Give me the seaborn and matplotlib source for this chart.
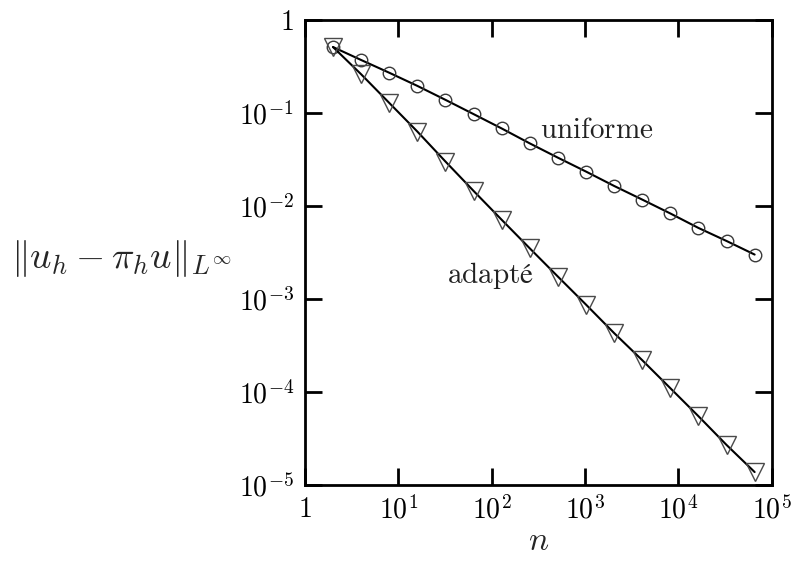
"""Convergence de l'erreur L-infini : maillage uniforme vs adapte (log-log)."""

import numpy as np
import pandas as pd
import matplotlib
matplotlib.use("Agg")
import matplotlib.pyplot as plt
import seaborn as sns

# nombre de mailles n = 2, 4, ..., 65536
n_values = [2, 4, 8, 16, 32, 64, 128, 256, 512, 1024, 2048, 4096,
            8192, 16384, 32768, 65536]

err_uniforme = [0.51, 0.37, 0.27, 0.195, 0.138, 0.097, 0.068, 0.047,
                0.033, 0.0234, 0.0164, 0.0117, 0.0083, 0.0058, 0.0042, 0.0030]

err_adapte = [0.51, 0.26, 0.128, 0.063, 0.030, 0.0145, 0.0071, 0.0035,
              0.00174, 0.00087, 0.00043, 0.00022, 0.00011, 5.5e-5, 2.7e-5,
              1.38e-5]

xticks = [1, 10, 100, 1e3, 1e4, 1e5]
xtick_labels = ["$1$", "$10^{1}$", "$10^{2}$", "$10^{3}$", "$10^{4}$", "$10^{5}$"]
yticks = [1e-5, 1e-4, 1e-3, 1e-2, 1e-1, 1]
ytick_labels = ["$10^{-5}$", "$10^{-4}$", "$10^{-3}$", "$10^{-2}$", "$10^{-1}$", "$1$"]


def main():
    sns.set_theme(style="ticks")
    plt.rcParams["mathtext.fontset"] = "cm"
    plt.rcParams["font.family"] = ["DejaVu Serif"]

    df_u = pd.DataFrame({"n": n_values, "err": err_uniforme})
    df_a = pd.DataFrame({"n": n_values, "err": err_adapte})

    fig = plt.figure(figsize=(7.94, 5.66), dpi=100)
    ax = fig.add_axes([0.384, 0.143, 0.588, 0.822])

    sns.lineplot(data=df_u, x="n", y="err", ax=ax, color="black", lw=1.5,
                 marker="o", markersize=9, markerfacecolor="none",
                 markeredgecolor="#3a3a3a", markeredgewidth=1.0)
    sns.lineplot(data=df_a, x="n", y="err", ax=ax, color="black", lw=1.5,
                 marker="v", markersize=13, markerfacecolor="none",
                 markeredgecolor="#4a4a4a", markeredgewidth=1.0)

    ax.set_xscale("log")
    ax.set_yscale("log")
    ax.set_xlim(1, 1e5)
    ax.set_ylim(1e-5, 1)

    ax.set_xticks(xticks)
    ax.set_xticklabels(xtick_labels)
    ax.set_yticks(yticks)
    ax.set_yticklabels(ytick_labels)
    ax.minorticks_off()
    ax.tick_params(which="major", direction="in", length=12, width=2,
                   top=True, right=True, labelsize=20, pad=8, colors="black")
    for side in ax.spines.values():
        side.set_visible(True)
        side.set_linewidth(2)
        side.set_color("black")

    ax.set_xlabel("$n$", fontsize=24, labelpad=0)
    ax.set_ylabel("")
    fig.text(0.153, 0.543, r"$\Vert u_h - \pi_h u\Vert_{L^\infty}$",
             fontsize=27, ha="center", va="center")

    ax.text(330, 0.066, r"$\mathrm{uniforme}$", fontsize=21,
            ha="left", va="center", color="#222222")
    ax.text(33, 0.0018, "$\\mathrm{adapté}$", fontsize=21,
            ha="left", va="center", color="#222222")

    fig.savefig("out.png", dpi=100)
    plt.close(fig)


if __name__ == "__main__":
    main()
